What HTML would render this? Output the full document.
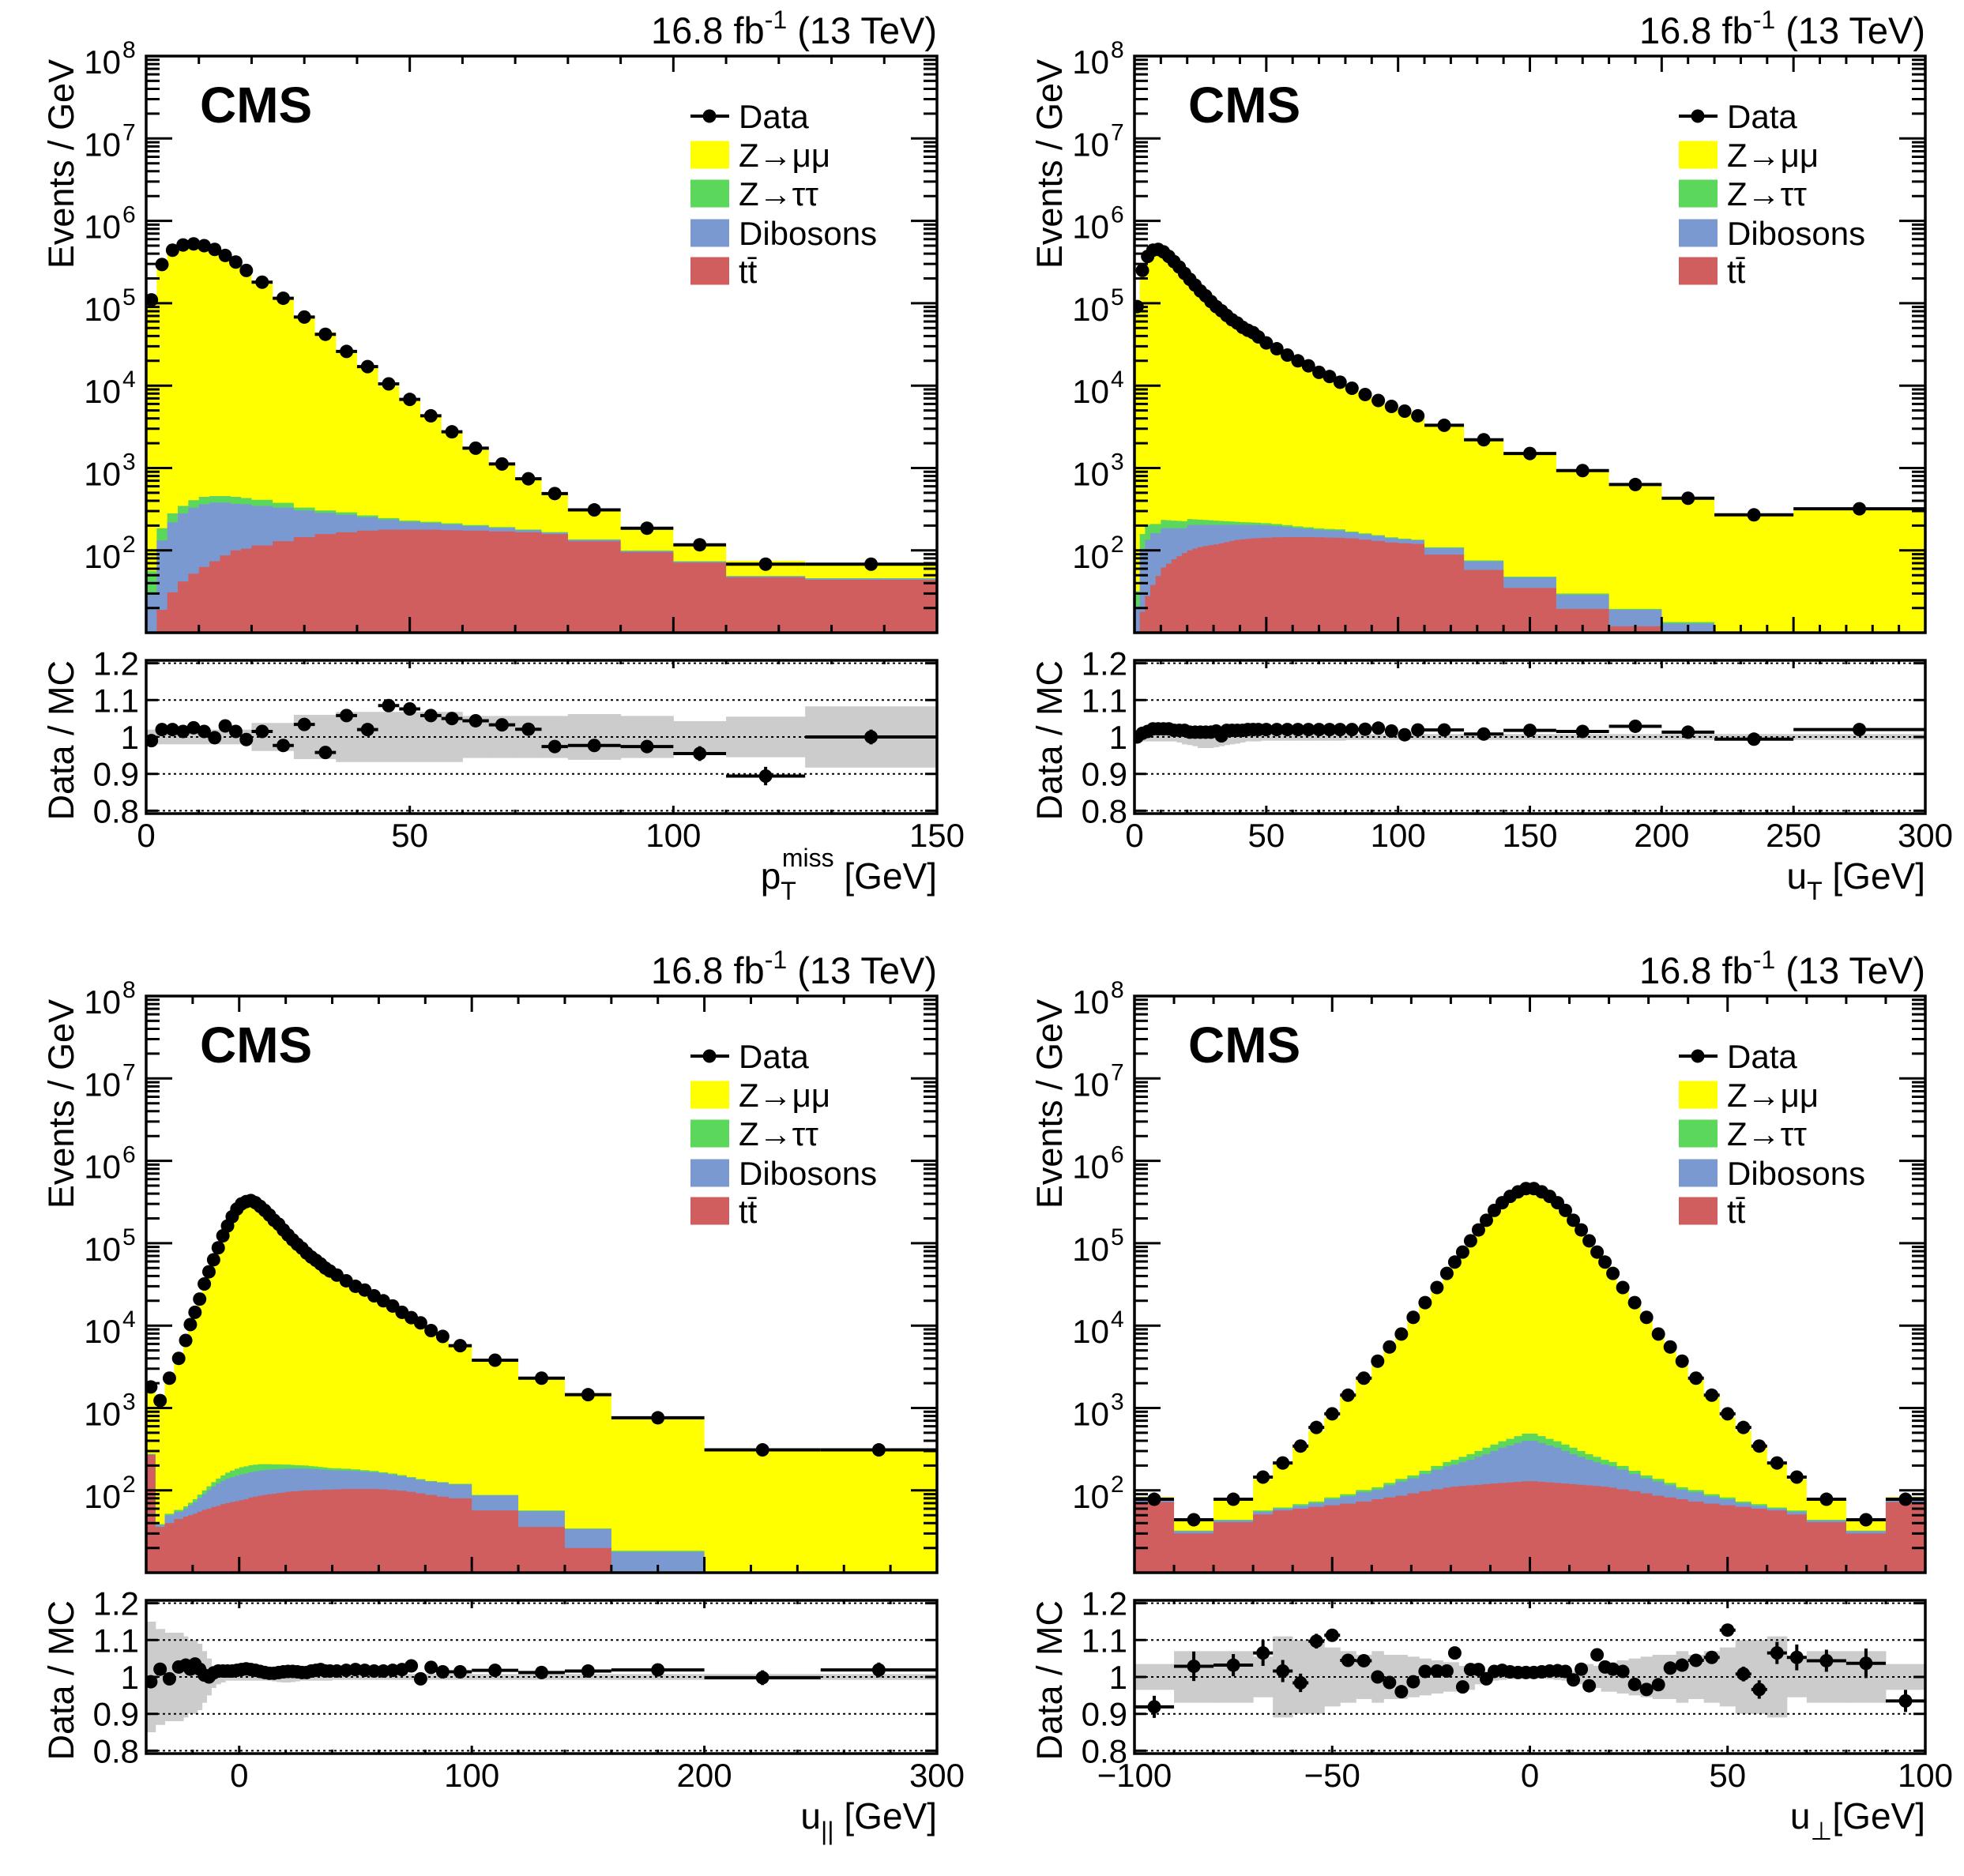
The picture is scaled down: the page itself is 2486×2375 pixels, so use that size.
<!DOCTYPE html>
<html><head><meta charset="utf-8">
<style>
html,body{margin:0;padding:0;background:#fff}
svg{display:block}
text{font-family:"Liberation Sans",Arial,sans-serif;fill:#000}
</style></head>
<body>
<svg id="fig" xmlns="http://www.w3.org/2000/svg" width="2486" height="2375" viewBox="0 0 2486 2375">
<rect x="0" y="0" width="2486" height="2375" fill="#fff"/>
<defs id="defs"></defs>
</svg>
<script>
// ---------- Panel 1: pT miss ----------
const p1Edges=[0,2,4,6,8,10,12,14,16,18,20,24,28,32,36,40,44,48,52,56,60,65,70,75,80,90,100,110,125,150];
const p1Data=[1.1e5,2.95e5,4.4e5,5.1e5,5.25e5,5e5,4.5e5,3.8e5,3.16e5,2.5e5,1.8e5,1.15e5,6.8e4,4.2e4,2.6e4,1.7e4,1.05e4,6.8e3,4.3e3,2.75e3,1740,1120,740,490,310,186,117,68,68];
const p1Zmm=[1.1e5,2.9e5,4.3e5,5.0e5,5.1e5,4.9e5,4.5e5,3.7e5,3.1e5,2.5e5,1.77e5,1.18e5,6.5e4,4.4e4,2.45e4,1.66e4,9.6e3,6.3e3,4.05e3,2.6e3,1467,894,545,338,182,91,47,26,22];
const p1Ztt=[27,54,63,65,76,84,77,77,80,69,64,47,26,20,19,12,10,8,7,6,5,4,3,3,2,1.5,1,0.5,0.5];
const p1Dib=[21,113,188,240,279,300,306,293,267,258,232,202,160,127,105,80,59,44,37,31,24,18,10,6,5,3,2,1.5,1.5];
const p1Tt=[8,19,31,42,52,63,74,87,100,105,115,129,145,158,166,174,178,178,178,176,174,170,166,158,129,95,71,47,44];
const p1Ratio=[0.99,1.02,1.02,1.015,1.025,1.015,0.998,1.03,1.015,0.993,1.015,0.977,1.034,0.958,1.058,1.02,1.085,1.076,1.058,1.05,1.044,1.033,1.021,0.974,0.977,0.974,0.955,0.894,1.0];
const p1RatioErr=[0.004,0.003,0.003,0.003,0.003,0.003,0.003,0.003,0.003,0.003,0.003,0.004,0.005,0.006,0.006,0.007,0.008,0.009,0.01,0.011,0.012,0.013,0.014,0.016,0.015,0.016,0.02,0.025,0.02];
const p1Band=[0.02,0.02,0.02,0.02,0.02,0.02,0.02,0.02,0.02,0.02,0.038,0.038,0.06,0.06,0.068,0.068,0.068,0.068,0.068,0.068,0.057,0.057,0.057,0.057,0.062,0.057,0.043,0.055,0.083];
const p1XTicks=[0,50,100,150];

// ---------- Panel 2: uT ----------
const p2Edges=[0,2,4,6,8,10,12,14,16,18,20,22,24,26,28,30,32,34,36,38,40,42,44,46,48,52,56,60,64,68,72,76,80,85,90,95,100,105,110,125,140,160,180,200,220,250,300];
const p2Data=[9.1e4,2.5e5,3.7e5,4.4e5,4.5e5,4.2e5,3.7e5,3.2e5,2.75e5,2.3e5,1.95e5,1.66e5,1.41e5,1.23e5,1.05e5,9.1e4,8.1e4,7.1e4,6.3e4,5.75e4,5.1e4,4.7e4,4.4e4,3.9e4,3.3e4,2.8e4,2.35e4,2.0e4,1.74e4,1.45e4,1.29e4,1.1e4,9.3e3,7.8e3,6.6e3,5.6e3,4.9e3,4.3e3,3.3e3,2.2e3,1.5e3,930,630,430,270,320];
const p2Zmm=[8.8e4,2.45e5,3.6e5,4.3e5,4.4e5,4.1e5,3.6e5,3.15e5,2.7e5,2.25e5,1.9e5,1.62e5,1.38e5,1.2e5,1.03e5,8.9e4,7.9e4,7.0e4,6.2e4,5.6e4,5.0e4,4.6e4,4.3e4,3.8e4,3.2e4,2.75e4,2.3e4,1.96e4,1.7e4,1.42e4,1.26e4,1.08e4,9.1e3,7.6e3,6.4e3,5.5e3,4.8e3,4.2e3,3.2e3,2.15e3,1.45e3,900,590,410,270,310];
const p2Ztt=[11,53,70,47,47,48,46,44,42,40,36,34,32,30,28,26,24,22,20,18,16,15,14,13,12,11,10,9,8,7,6,5,4,4,3,3,3,2,2,1.5,1,1,0.5,0.5,0.3,0.2];
const p2Dib=[18,87,107,124,113,124,117,108,101,93,104,99,94,91,88,86,82,78,74,70,68,66,64,63,60,54,48,42,38,34,33,33,25,22,20,16,14,13,18,16,12,9.5,7,8,3,2];
const p2Tt=[3,18,28,38,49,62,69,78,85,93,100,105,110,113,116,118,122,126,130,134,136,138,140,141,142,144,145,145,145,144,143,142,140,135,130,125,122,120,89,58,35,19.5,12,5,2,1];
const p2Ratio=[1.0,1.01,1.015,1.022,1.022,1.022,1.022,1.018,1.018,1.018,1.013,1.013,1.013,1.013,1.013,1.016,1.003,1.018,1.018,1.018,1.018,1.02,1.02,1.02,1.02,1.02,1.02,1.02,1.02,1.02,1.02,1.02,1.02,1.021,1.024,1.016,1.006,1.019,1.019,1.008,1.018,1.015,1.029,1.013,0.994,1.02];
const p2RatioErr=[0.003,0.003,0.003,0.003,0.003,0.003,0.003,0.003,0.003,0.003,0.003,0.003,0.003,0.003,0.003,0.003,0.003,0.003,0.003,0.003,0.003,0.003,0.003,0.003,0.003,0.003,0.003,0.003,0.003,0.003,0.003,0.003,0.004,0.004,0.004,0.004,0.004,0.004,0.005,0.006,0.007,0.008,0.01,0.012,0.015,0.012];
const p2Band=[0.01,0.012,0.012,0.012,0.012,0.012,0.012,0.012,0.015,0.02,0.022,0.025,0.03,0.03,0.03,0.028,0.025,0.022,0.02,0.018,0.015,0.012,0.012,0.012,0.01,0.01,0.01,0.01,0.01,0.01,0.01,0.01,0.008,0.008,0.008,0.008,0.008,0.008,0.008,0.008,0.008,0.008,0.008,0.008,0.008,0.008];
const p2XTicks=[0,50,100,150,200,250,300];

// ---------- Panel 3: u parallel ----------
const p3Edges=[-40,-36,-32,-28,-24,-22,-20,-18,-16,-14,-12,-10,-8,-6,-4,-2,0,2,4,6,8,10,12,14,16,18,20,22,24,26,28,30,32,34,36,38,40,44,48,52,56,60,64,68,72,76,80,85,90,100,120,140,160,200,250,300];
const p3Data=[1.8e3,1.23e3,2.3e3,4e3,6.6e3,1.03e4,1.45e4,2.1e4,3.2e4,4.5e4,6.3e4,8.8e4,1.23e5,1.62e5,2.1e5,2.6e5,3e5,3.2e5,3.3e5,3.1e5,2.8e5,2.5e5,2.2e5,1.9e5,1.7e5,1.45e5,1.26e5,1.1e5,9.7e4,8.7e4,7.6e4,6.8e4,6.2e4,5.6e4,5e4,4.6e4,4.1e4,3.5e4,3e4,2.7e4,2.3e4,2e4,1.73e4,1.45e4,1.25e4,1.08e4,8.7e3,7.4e3,5.7e3,3.8e3,2.3e3,1.45e3,760,310,310];
const p3Zmm=[1.5e3,1.15e3,2.2e3,3.8e3,6.4e3,1.0e4,1.42e4,2.05e4,3.1e4,4.4e4,6.2e4,8.7e4,1.21e5,1.6e5,2.07e5,2.56e5,2.95e5,3.15e5,3.25e5,3.05e5,2.75e5,2.46e5,2.17e5,1.87e5,1.67e5,1.43e5,1.24e5,1.08e5,9.5e4,8.5e4,7.5e4,6.7e4,6.1e4,5.5e4,4.9e4,4.5e4,4.0e4,3.4e4,2.95e4,2.65e4,2.25e4,1.95e4,1.7e4,1.42e4,1.22e4,1.06e4,8.5e3,7.2e3,5.5e3,3.7e3,2.25e3,1.4e3,740,300,300];
const p3Ztt=[2,1,2,3,4,5,6,8,10,12,15,18,22,26,30,33,35,36,36,35,34,32,30,28,26,24,22,20,18,17,16,15,14,13,12,11,10,9,8,7,6,5,4,4,3,3,2,2,2,1,1,0.5,0.5,0.2,0.2];
const p3Dib=[5,2,10,10,12,16,20,26,32,40,48,56,62,68,72,76,80,82,84,86,88,88,88,88,88,88,88,87,86,85,84,82,80,78,76,74,72,70,68,65,62,58,55,50,46,42,40,40,38,30,20,14,13,1,0.5];
const p3Tt=[270,36,40,45,48,50,52,55,58,60,63,65,68,70,72,74,76,78,82,84,86,88,90,91,93,94,96,97,98,99,100,100,101,101,102,102,103,104,104,104,104,103,101,99,96,92,88,84,80,57,36,20,5,3,2];
const p3Ratio=[0.987,1.021,0.995,1.027,1.032,1.021,1.035,1.021,1.005,1.0,1.011,1.016,1.016,1.016,1.016,1.018,1.02,1.022,1.02,1.018,1.015,1.012,1.01,1.01,1.012,1.014,1.015,1.015,1.014,1.012,1.012,1.016,1.018,1.02,1.016,1.016,1.016,1.018,1.02,1.018,1.016,1.016,1.018,1.02,1.03,0.995,1.026,1.014,1.014,1.018,1.012,1.016,1.019,0.998,1.019];
const p3RatioErr=[0.012,0.012,0.01,0.008,0.006,0.005,0.005,0.004,0.004,0.004,0.004,0.004,0.004,0.004,0.004,0.004,0.004,0.004,0.004,0.004,0.004,0.004,0.004,0.004,0.004,0.004,0.004,0.004,0.004,0.004,0.004,0.004,0.004,0.004,0.004,0.004,0.006,0.006,0.006,0.006,0.006,0.006,0.006,0.006,0.006,0.006,0.008,0.008,0.008,0.008,0.01,0.012,0.015,0.02,0.02];
const p3Band=[0.15,0.13,0.12,0.12,0.11,0.1,0.1,0.09,0.07,0.05,0.03,0.02,0.015,0.01,0.01,0.01,0.01,0.01,0.01,0.01,0.01,0.01,0.01,0.012,0.014,0.015,0.015,0.014,0.012,0.01,0.01,0.01,0.01,0.01,0.01,0.01,0.008,0.008,0.008,0.008,0.008,0.008,0.008,0.008,0.008,0.008,0.008,0.008,0.008,0.008,0.008,0.008,0.008,0.008,0.008];
const p3XTicks=[0,100,200,300];

// ---------- Panel 4: u perp ----------
const p4Edges=[-100,-90,-80,-70,-65,-60,-56,-52,-48,-44,-40,-37,-34,-31,-28,-25,-22,-20,-18,-16,-14,-12,-10,-8,-6,-4,-2,0,2,4,6,8,10,12,14,16,18,20,22,25,28,31,34,37,40,44,48,52,56,60,65,70,80,90,100];
const p4Data=[78,44,78,145,215,345,580,850,1430,2300,3700,5500,7900,12600,19000,29000,43000,59000,78000,107000,145000,190000,250000,310000,370000,420000,460000,460000,420000,370000,310000,250000,190000,145000,107000,78000,59000,43000,29000,19000,12600,7900,5500,3700,2300,1430,850,580,345,215,145,78,44,78];
const p4Zmm=[7,10,32,79,150,282,453,678,1280,2100,3590,5460,8100,12800,18700,28500,42300,55400,80000,105000,142000,191000,246000,305000,365000,415000,455000,455000,415000,365000,305000,246000,191000,142000,105000,80000,55400,42300,28500,18700,12800,8100,5460,3590,2100,1280,678,453,282,150,79,32,10,7];
const p4Ztt=[1,0.5,1,2,2,3,3,4,5,6,7,8,10,12,15,20,25,30,35,40,45,55,60,65,72,80,88,88,80,72,65,60,55,45,40,35,30,25,20,15,12,10,8,7,6,5,4,3,3,2,2,1,0.5,1];
const p4Dib=[3,2,2,4,3,5,7,12,16,22,24,33,42,48,60,75,88,94,107,120,138,156,179,207,225,248,271,271,248,225,207,179,156,138,120,107,94,88,75,60,48,42,33,24,22,16,12,7,5,3,4,2,2,3];
const p4Tt=[72,30,41,51,57,60,63,66,69,73,78,82,86,92,98,103,108,111,113,115,117,119,121,123,125,127,129,129,127,125,123,121,119,117,115,113,111,108,103,98,92,86,82,78,73,69,66,63,60,57,51,41,30,72];
const p4Ratio=[0.919,1.029,1.032,1.065,1.016,0.984,1.097,1.113,1.045,1.044,1.0,0.985,0.96,0.987,1.015,1.016,1.016,1.065,0.973,1.02,1.02,0.995,1.015,1.018,1.014,1.012,1.012,1.012,1.014,1.016,1.017,1.015,0.992,1.021,0.976,1.06,1.027,1.021,1.015,0.98,0.966,0.979,1.024,1.032,1.045,1.053,1.127,1.008,0.966,1.065,1.053,1.044,1.037,0.935];
const p4RatioErr=[0.03,0.04,0.03,0.035,0.03,0.025,0.02,0.015,0.012,0.01,0.008,0.007,0.006,0.005,0.005,0.004,0.004,0.004,0.003,0.003,0.003,0.003,0.003,0.003,0.003,0.003,0.003,0.003,0.003,0.003,0.003,0.003,0.003,0.003,0.003,0.003,0.004,0.004,0.004,0.005,0.005,0.006,0.007,0.008,0.01,0.012,0.015,0.02,0.025,0.03,0.035,0.03,0.04,0.03];
const p4Band=[0.035,0.07,0.07,0.055,0.11,0.1,0.1,0.08,0.07,0.06,0.07,0.06,0.06,0.055,0.05,0.045,0.04,0.04,0.03,0.035,0.02,0.015,0.01,0.008,0.006,0.005,0.005,0.005,0.005,0.006,0.008,0.01,0.015,0.02,0.035,0.03,0.04,0.04,0.045,0.05,0.055,0.06,0.06,0.07,0.06,0.07,0.08,0.1,0.1,0.11,0.055,0.07,0.07,0.035];
const p4XTicks=[-100,-50,0,50,100];

const NS='http://www.w3.org/2000/svg';
const svg=document.getElementById('fig');
const defs=document.getElementById('defs');
const COL={zmm:'#ffff00',ztt:'#5bd75b',dib:'#7b99d1',tt:'#d05e5e',band:'#cccccc'};
function mk(parent,tag,attrs,txt){
  const e=document.createElementNS(NS,tag);
  for(const k in attrs) e.setAttribute(k,attrs[k]);
  if(txt!==undefined) e.textContent=txt;
  parent.appendChild(e);
  return e;
}
function fmtTick(v){return v<0?'\u2212'+(-v):String(v);}

function panel(P){
  const ox=P.ox, oy=P.oy;
  const FL=ox+185, FR=ox+1186, FT=oy+71, FB=oy+801, RT=oy+836, RB=oy+1030;
  const X=v=>FL+(v-P.xmin)/(P.xmax-P.xmin)*(FR-FL);
  const Y=v=>{ if(!(v>0)) return FB; return Math.min(FT+(8-Math.log10(v))*104.3, FB); };
  const R=r=>oy+933-(r-1)*467;
  const g=mk(svg,'g',{});
  
  
  const cpM=mk(defs,'clipPath',{id:P.name+'-clipm'});
  mk(cpM,'rect',{x:FL,y:FT,width:FR-FL,height:FB-FT});
  const cpR=mk(defs,'clipPath',{id:P.name+'-clipr'});
  mk(cpR,'rect',{x:FL,y:RT,width:FR-FL,height:RB-RT});
  const E=P.edges, n=E.length-1;
  const cTt=[],cDib=[],cZtt=[],cTot=[];
  for(let i=0;i<n;i++){cTt[i]=P.tt[i];cDib[i]=cTt[i]+P.dib[i];cZtt[i]=cDib[i]+P.ztt[i];cTot[i]=cZtt[i]+P.zmm[i];}
  function stackPath(c){
    let d='M'+X(E[0])+','+FB;
    for(let i=0;i<n;i++){d+=' L'+X(E[i])+','+Y(c[i])+' L'+X(E[i+1])+','+Y(c[i]);}
    d+=' L'+X(E[n])+','+FB+' Z';return d;
  }
  const stk=mk(g,'g',{'clip-path':'url(#'+P.name+'-clipm)'});
  
  
  const hz=mk(stk,'path',{d:stackPath(cTot),fill:COL.zmm});
  
  
  const hzt=mk(stk,'path',{d:stackPath(cZtt),fill:COL.ztt});
  
  
  const hd=mk(stk,'path',{d:stackPath(cDib),fill:COL.dib});
  
  
  const ht=mk(stk,'path',{d:stackPath(cTt),fill:COL.tt});
  
  
  const dg=mk(g,'g',{'clip-path':'url(#'+P.name+'-clipm)'});
  
  
  for(let i=0;i<n;i++){
    const y=Y(P.data[i]), xc=X((E[i]+E[i+1])/2);
    const l=mk(dg,'line',{x1:X(E[i]),x2:X(E[i+1]),y1:y,y2:y,stroke:'#000','stroke-width':4});
    
    
    const c=mk(dg,'circle',{cx:xc,cy:y,r:8.5,fill:'#000'});
    
    
  }
  const rg=mk(g,'g',{'clip-path':'url(#'+P.name+'-clipr)'});
  
  
  for(let i=0;i<n;i++){
    const b=mk(rg,'rect',{x:X(E[i]),y:R(1+P.band[i]),width:X(E[i+1])-X(E[i])+0.5,height:R(1-P.band[i])-R(1+P.band[i]),fill:COL.band});
    
    
  }
  [0.8,0.9,1.0,1.1,1.2].forEach(v=>{
    const gl=mk(rg,'line',{x1:FL,x2:FR,y1:R(v),y2:R(v),stroke:'#000','stroke-width':2,'stroke-dasharray':'3,4'});
    
    
  });
  for(let i=0;i<n;i++){
    const y=R(P.ratio[i]), xc=X((E[i]+E[i+1])/2), e=P.rerr[i];
    const l=mk(rg,'line',{x1:X(E[i]),x2:X(E[i+1]),y1:y,y2:y,stroke:'#000','stroke-width':4});
    
    
    const v=mk(rg,'line',{x1:xc,x2:xc,y1:R(P.ratio[i]+e),y2:R(P.ratio[i]-e),stroke:'#000','stroke-width':4});
    
    
    const c=mk(rg,'circle',{cx:xc,cy:y,r:8.5,fill:'#000'});
    
    
  }
  const fm=mk(g,'rect',{x:FL,y:FT,width:FR-FL,height:FB-FT,fill:'none',stroke:'#000','stroke-width':3.5});
  
  
  const fr=mk(g,'rect',{x:FL,y:RT,width:FR-FL,height:RB-RT,fill:'none',stroke:'#000','stroke-width':3.5});
  
  
  let td='';
  for(let v=P.xmin; v<=P.xmax+1e-9; v+=P.minor){
    const x=X(v); const maj=Math.abs(((v-P.xticks[0])/P.major)-Math.round((v-P.xticks[0])/P.major))<1e-6;
    const L=maj?20:10, Lr=maj?10:5;
    td+=`M${x},${FB}v${-L}M${x},${FT}v${L}M${x},${RB}v${-Lr}M${x},${RT}v${Lr}`;
  }
  for(let k=1;k<8;k++){
    for(let m=1;m<=9;m++){
      const y=Y(Math.pow(10,k)*m); if(y<FT-0.5||y>FB+0.5) continue;
      const L=(m===1)?33:17;
      td+=`M${FL},${y}h${L}M${FR},${y}h${-L}`;
    }
  }
  td+=`M${FL},${FT}h33M${FR},${FT}h-33`;
  for(let v=0.8; v<=1.2001; v+=0.1){const y=R(v); td+=`M${FL},${y}h15M${FR},${y}h-15`;}
  const tk=mk(g,'path',{d:td,stroke:'#000','stroke-width':3,fill:'none'});
  
  
  P.xticks.forEach(v=>{
    const t=mk(g,'text',{x:X(v),y:oy+1072,'font-size':42,'text-anchor':'middle'},fmtTick(v));
    
    
  });
  for(let k=2;k<=8;k++){
    const y=Y(Math.pow(10,k));
    const t=mk(g,'text',{x:ox+153,y:y+22,'font-size':42,'text-anchor':'end'},'10');
    
    
    const s=mk(g,'text',{x:ox+155,y:y+2,'font-size':30},String(k));
    
    
  }
  ['0.8','0.9','1','1.1','1.2'].forEach(s=>{
    const t=mk(g,'text',{x:ox+176,y:R(parseFloat(s))+15,'font-size':42,'text-anchor':'end'},s);
    
    
  });
  const yt=mk(g,'text',{transform:`translate(${ox+93},${oy+75}) rotate(-90)`,'font-size':45,'text-anchor':'end'},'Events / GeV');
  
  
  const rt=mk(g,'text',{transform:`translate(${ox+93},${oy+836}) rotate(-90)`,'font-size':45,'text-anchor':'end'},'Data / MC');
  
  
  const xt=mk(g,'text',{x:FR,y:oy+1125,'font-size':46,'text-anchor':'end'});
  
  
  P.xtitle(xt);
  const lt=mk(g,'text',{x:FR,y:oy+55,'font-size':47,'text-anchor':'end'});
  
  
  mk(lt,'tspan',{},'16.8 fb');
  mk(lt,'tspan',{dy:-19,'font-size':32},'-1');
  mk(lt,'tspan',{dy:19},' (13 TeV)');
  const cms=mk(g,'text',{x:ox+253,y:oy+155,'font-size':64,'font-weight':'bold'},'CMS');
  
  
  const lg=mk(g,'g',{});
  
  
  const rows=[['Data',null],['Z\u2192\u03bc\u03bc',COL.zmm],['Z\u2192\u03c4\u03c4',COL.ztt],['Dibosons',COL.dib],['tt\u0304',COL.tt]];
  const ys=[147,196,245,295,343];
  rows.forEach((r,i)=>{
    const cy=oy+ys[i];
    const e=mk(lg,'g',{});
    
    
    if(r[1]===null){
      mk(e,'line',{x1:ox+874,x2:ox+923,y1:cy,y2:cy,stroke:'#000','stroke-width':4});
      mk(e,'circle',{cx:ox+898,cy:cy,r:8.5,fill:'#000'});
    } else {
      mk(e,'rect',{x:ox+874,y:cy-17.5,width:49,height:35,fill:r[1]});
    }
    mk(e,'text',{x:ox+935,y:cy+15,'font-size':42},r[0]);
  });
}

panel({name:'ptmiss',ox:0,oy:0,xmin:0,xmax:150,major:50,minor:10,xticks:p1XTicks,edges:p1Edges,data:p1Data,zmm:p1Zmm,ztt:p1Ztt,dib:p1Dib,tt:p1Tt,ratio:p1Ratio,rerr:p1RatioErr,band:p1Band,
  xtitle:t=>{mk(t,'tspan',{},'p');mk(t,'tspan',{dy:14,'font-size':32},'T');mk(t,'tspan',{dx:-18,dy:-42,'font-size':32},'miss');mk(t,'tspan',{dy:28},' [GeV]');}});
panel({name:'ut',ox:1251,oy:0,xmin:0,xmax:300,major:50,minor:10,xticks:p2XTicks,edges:p2Edges,data:p2Data,zmm:p2Zmm,ztt:p2Ztt,dib:p2Dib,tt:p2Tt,ratio:p2Ratio,rerr:p2RatioErr,band:p2Band,
  xtitle:t=>{mk(t,'tspan',{},'u');mk(t,'tspan',{dy:14,'font-size':32},'T');mk(t,'tspan',{dy:-14},' [GeV]');}});
panel({name:'upar',ox:0,oy:1190,xmin:-40,xmax:300,major:100,minor:20,xticks:p3XTicks,edges:p3Edges,data:p3Data,zmm:p3Zmm,ztt:p3Ztt,dib:p3Dib,tt:p3Tt,ratio:p3Ratio,rerr:p3RatioErr,band:p3Band,
  xtitle:t=>{mk(t,'tspan',{},'u');mk(t,'tspan',{dy:14,'font-size':32},'||');mk(t,'tspan',{dy:-14},'  [GeV]');}});
panel({name:'uperp',ox:1251,oy:1190,xmin:-100,xmax:100,major:50,minor:10,xticks:p4XTicks,edges:p4Edges,data:p4Data,zmm:p4Zmm,ztt:p4Ztt,dib:p4Dib,tt:p4Tt,ratio:p4Ratio,rerr:p4RatioErr,band:p4Band,
  xtitle:t=>{mk(t,'tspan',{},'u');mk(t,'tspan',{dy:14,'font-size':32},'\u22a5');mk(t,'tspan',{dy:-14},'[GeV]');}});
</script>
</body></html>
